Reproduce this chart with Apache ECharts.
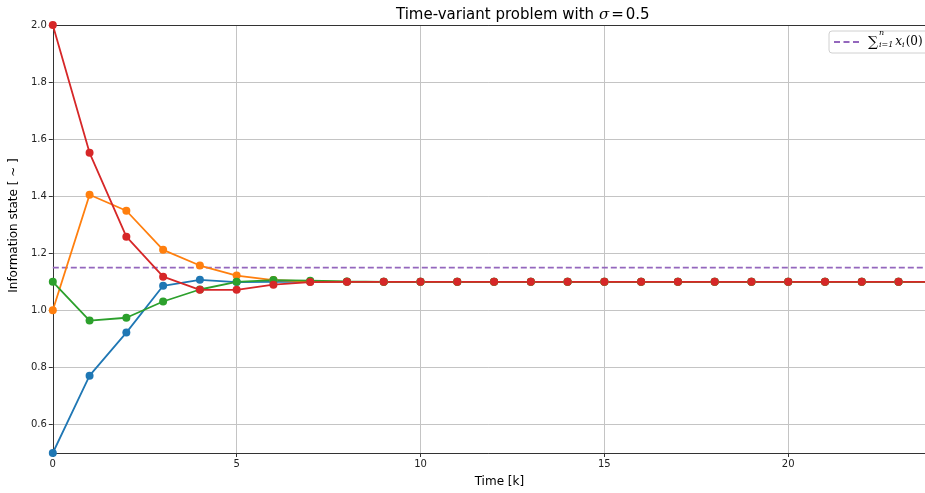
<!DOCTYPE html>
<html>
<head>
<meta charset="utf-8">
<script src="https://cdn.jsdelivr.net/npm/echarts@6/dist/echarts.min.js"></script>
<style>
html,body{margin:0;padding:0;background:#fff;}
#chart{width:925px;height:493px;}
</style>
</head>
<body>
<div id="chart"></div>
<script>
// ---- data ----
const steps = [0,1,2,3,4,5,6,7,8,9,10,11,12,13,14,15,16,17,18,19,20,21,22,23,24];
const agent1 = [0.500,0.771,0.922,1.086,1.107,1.099,1.100,1.100,1.100,1.100,1.100,1.100,1.100,1.100,1.100,1.100,1.100,1.100,1.100,1.100,1.100,1.100,1.100,1.100,1.100];
const agent2 = [1.000,1.405,1.349,1.212,1.157,1.122,1.106,1.101,1.100,1.100,1.100,1.100,1.100,1.100,1.100,1.100,1.100,1.100,1.100,1.100,1.100,1.100,1.100,1.100,1.100];
const agent3 = [1.100,0.964,0.974,1.031,1.073,1.100,1.106,1.104,1.101,1.100,1.100,1.100,1.100,1.100,1.100,1.100,1.100,1.100,1.100,1.100,1.100,1.100,1.100,1.100,1.100];
const agent4 = [2.000,1.552,1.258,1.118,1.072,1.072,1.090,1.099,1.100,1.100,1.100,1.100,1.100,1.100,1.100,1.100,1.100,1.100,1.100,1.100,1.100,1.100,1.100,1.100,1.100];
const referenceValue = 1.15;
const yTicks = [0.6,0.8,1.0,1.2,1.4,1.6,1.8,2.0];
const xTicks = [0,5,10,15,20];

const colors = ['#1f77b4','#ff7f0e','#2ca02c','#d62728','#9467bd'];
const pair = arr => steps.map((k,i)=>[k,arr[i]]);

function agentSeries(arr, color, name){
  return {
    name: name, type:'line', xAxisIndex:0, yAxisIndex:0,
    data: pair(arr),
    symbol:'circle', symbolSize:8,
    lineStyle:{color:color,width:1.8},
    itemStyle:{color:color},
    emphasis:{disabled:true},
    animation:false, z:3
  };
}

const chart = echarts.init(document.getElementById('chart'), null, {renderer:'canvas'});
const font = 'DejaVu Sans';
chart.setOption({
  animation:false,
  backgroundColor:'#ffffff',
  title:{
    text:'Time-variant problem with {i|σ}{e|=}0.5',
    left:391, top:3,
    textStyle:{fontFamily:font,fontSize:15,fontWeight:'normal',color:'#000',
      rich:{
        i:{fontFamily:'DejaVu Serif',fontStyle:'italic',fontSize:15,color:'#000'},
        e:{fontFamily:font,fontSize:15,color:'#000',padding:[0,2,0,2]}
      }}
  },
  legend:{
    data:[{name:'sum', icon:'path://M0,0h6v2h-6z M9.5,0h6v2h-6z M19,0h6v2h-6z'}],
    left:829, top:31,
    padding:[4,60,4,5],
    itemWidth:25, itemHeight:2, itemGap:5,
    itemStyle:{color:'#9467bd',borderWidth:0},
    backgroundColor:'rgba(255,255,255,0.8)',
    borderColor:'#d0d0d0', borderWidth:1, borderRadius:3,
    formatter:function(){ return '{s|∑}{b|i=1}{x|x}{xi|i}{p|(0)}'; },
    textStyle:{
      lineHeight:14,
      rich:{
        s:{fontFamily:'DejaVu Serif',fontSize:14,color:'#000',padding:[0,0,0,4]},
        b:{fontFamily:'DejaVu Serif',fontStyle:'italic',fontSize:8,color:'#000',verticalAlign:'bottom',padding:[4,2,0,1]},
        x:{fontFamily:'DejaVu Serif',fontStyle:'italic',fontSize:12,color:'#000'},
        xi:{fontFamily:'DejaVu Serif',fontStyle:'italic',fontSize:8,color:'#000',verticalAlign:'bottom',padding:[4,1,0,0]},
        p:{fontFamily:'DejaVu Serif',fontSize:12,color:'#000'}
      }
    }
  },
  graphic:[{
    type:'text', left:879, top:29, z:100,
    style:{text:'n',font:'italic 8px "DejaVu Serif"',fill:'#000'}
  }],
  grid:{left:52, right:0, top:25, bottom:39, containLabel:false},
  xAxis:[{
    type:'value', min:0, max:23.72, interval:5,
    name:'Time [k]', nameLocation:'middle', nameGap:23,
    nameTextStyle:{fontFamily:font,fontSize:12,color:'#000',padding:[0,0,0,21]},
    axisLine:{show:true,onZero:false,lineStyle:{color:'#333',width:1}},
    axisTick:{show:true,length:4,inside:false,customValues:xTicks,lineStyle:{color:'#333'}},
    axisLabel:{fontFamily:font,fontSize:10,color:'#222',margin:6,customValues:xTicks},
    splitLine:{show:true,lineStyle:{color:'#c4c4c4',width:1}}
  },{
    type:'value', min:0, max:23.72, position:'top',
    axisLine:{show:true,lineStyle:{color:'#333',width:1}},
    axisTick:{show:false}, axisLabel:{show:false}, splitLine:{show:false}
  }],
  yAxis:[{
    type:'value', min:0.5, max:2.0,
    name:'Information state [ ~ ]', nameLocation:'middle', nameGap:30, nameRotate:90,
    nameTextStyle:{fontFamily:font,fontSize:12,color:'#000',padding:[0,0,0,27]},
    axisLine:{show:true,onZero:false,lineStyle:{color:'#333',width:1}},
    axisTick:{show:true,length:4,customValues:yTicks,lineStyle:{color:'#333'}},
    axisLabel:{fontFamily:font,fontSize:10,color:'#222',margin:6,customValues:yTicks,
      formatter:v=>v.toFixed(1)},
    splitLine:{show:true,lineStyle:{color:'#c4c4c4',width:1}}
  }],
  series:[
    agentSeries(agent1, colors[0], 'a1'),
    agentSeries(agent2, colors[1], 'a2'),
    agentSeries(agent3, colors[2], 'a3'),
    agentSeries(agent4, colors[3], 'a4'),
    {
      name:'sum', type:'line', xAxisIndex:0, yAxisIndex:0,
      data: steps.map(k=>[k,referenceValue]),
      symbol:'none', showSymbol:false,
      lineStyle:{color:colors[4],width:1.8,type:[6,3]},
      itemStyle:{color:colors[4]},
      emphasis:{disabled:true}, z:2
    }
  ]
});
</script>
</body>
</html>
